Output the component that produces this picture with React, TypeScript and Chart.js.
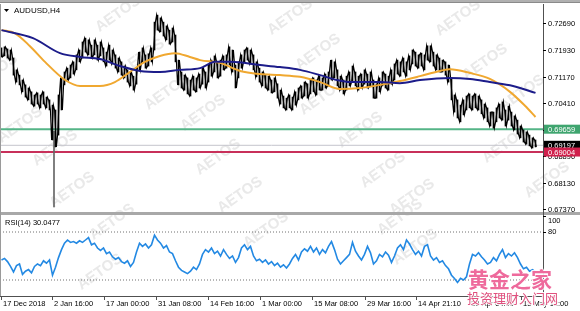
import React, { useEffect, useRef } from 'react';
import { Chart, registerables } from 'chart.js';

Chart.register(...registerables);

const symbolTitle = 'AUDUSD,H4';
const rsiTitle = 'RSI(14) 30.0477';

// H4 bars (one entry per plotted column), high / low
const highs = [
  0.7199, 0.7202, 0.7196, 0.7193, 0.7170, 0.7136, 0.7121, 0.7107, 0.7093, 0.7084,
  0.7073, 0.7064, 0.7070, 0.7064, 0.7073, 0.7058, 0.7050, 0.7035, 0.7021, 0.7064,
  0.7113, 0.7130, 0.7141, 0.7150, 0.7159, 0.7179, 0.7193, 0.7216, 0.7227, 0.7222,
  0.7207, 0.7222, 0.7207, 0.7216, 0.7199, 0.7187, 0.7207, 0.7193, 0.7179, 0.7170,
  0.7159, 0.7147, 0.7136, 0.7130, 0.7118, 0.7141, 0.7187, 0.7199, 0.7179, 0.7182,
  0.7199, 0.7273, 0.7293, 0.7285, 0.7273, 0.7262, 0.7250, 0.7256, 0.7236, 0.7164,
  0.7130, 0.7121, 0.7113, 0.7107, 0.7118, 0.7113, 0.7124, 0.7141, 0.7130, 0.7150,
  0.7164, 0.7176, 0.7159, 0.7164, 0.7176, 0.7179, 0.7202, 0.7193, 0.7150, 0.7159,
  0.7179, 0.7193, 0.7199, 0.7193, 0.7179, 0.7159, 0.7141, 0.7130, 0.7121, 0.7118,
  0.7107, 0.7113, 0.7096, 0.7078, 0.7061, 0.7055, 0.7064, 0.7058, 0.7073, 0.7084,
  0.7090, 0.7101, 0.7096, 0.7107, 0.7113, 0.7107, 0.7118, 0.7113, 0.7124, 0.7130,
  0.7164, 0.7159, 0.7136, 0.7118, 0.7107, 0.7118, 0.7130, 0.7147, 0.7130, 0.7118,
  0.7124, 0.7136, 0.7124, 0.7130, 0.7107, 0.7096, 0.7113, 0.7130, 0.7124, 0.7118,
  0.7136, 0.7153, 0.7164, 0.7159, 0.7170, 0.7159, 0.7176, 0.7193, 0.7187, 0.7179,
  0.7184, 0.7179, 0.7205, 0.7205, 0.7187, 0.7179, 0.7170, 0.7164, 0.7159, 0.7150,
  0.7113, 0.7064, 0.7050, 0.7035, 0.7050, 0.7061, 0.7067, 0.7061, 0.7067, 0.7061,
  0.7050, 0.7038, 0.7027, 0.7015, 0.7015, 0.7027, 0.7038, 0.7044, 0.7021, 0.7032,
  0.7015, 0.7004, 0.6992, 0.6975, 0.6964, 0.6958, 0.6949, 0.6941, 0.6935,
];
const lows = [
  0.7173, 0.7176, 0.7170, 0.7164, 0.7121, 0.7101, 0.7093, 0.7073, 0.7058, 0.7050,
  0.7038, 0.7032, 0.7038, 0.7027, 0.7038, 0.7027, 0.7021, 0.6935, 0.6915, 0.6949,
  0.7021, 0.7093, 0.7107, 0.7113, 0.7124, 0.7136, 0.7159, 0.7170, 0.7187, 0.7179,
  0.7170, 0.7179, 0.7164, 0.7176, 0.7159, 0.7147, 0.7164, 0.7153, 0.7141, 0.7130,
  0.7121, 0.7113, 0.7101, 0.7090, 0.7078, 0.7095, 0.7136, 0.7159, 0.7141, 0.7147,
  0.7159, 0.7193, 0.7250, 0.7245, 0.7233, 0.7222, 0.7210, 0.7216, 0.7159, 0.7093,
  0.7084, 0.7078, 0.7067, 0.7061, 0.7078, 0.7073, 0.7084, 0.7095, 0.7084, 0.7101,
  0.7118, 0.7130, 0.7113, 0.7118, 0.7136, 0.7141, 0.7150, 0.7130, 0.7084, 0.7113,
  0.7141, 0.7159, 0.7164, 0.7153, 0.7136, 0.7116, 0.7101, 0.7090, 0.7084, 0.7078,
  0.7070, 0.7073, 0.7055, 0.7038, 0.7027, 0.7021, 0.7027, 0.7021, 0.7035, 0.7050,
  0.7055, 0.7061, 0.7055, 0.7067, 0.7073, 0.7064, 0.7078, 0.7078, 0.7084, 0.7090,
  0.7107, 0.7113, 0.7090, 0.7078, 0.7067, 0.7078, 0.7090, 0.7101, 0.7090, 0.7078,
  0.7084, 0.7095, 0.7084, 0.7090, 0.7055, 0.7055, 0.7073, 0.7090, 0.7084, 0.7078,
  0.7095, 0.7107, 0.7124, 0.7118, 0.7130, 0.7118, 0.7136, 0.7153, 0.7147, 0.7141,
  0.7147, 0.7136, 0.7164, 0.7159, 0.7147, 0.7136, 0.7130, 0.7130, 0.7121, 0.7101,
  0.7050, 0.7015, 0.6998, 0.6987, 0.7007, 0.7021, 0.7027, 0.7021, 0.7027, 0.7021,
  0.7010, 0.6998, 0.6987, 0.6975, 0.6969, 0.6987, 0.6998, 0.6992, 0.6975, 0.6992,
  0.6975, 0.6964, 0.6952, 0.6941, 0.6929, 0.6923, 0.6918, 0.6912, 0.6915,
];

// the long lower shadow of early January
const spikeBar = [17.5];
const spikeHigh = [0.6960];
const spikeLow = [0.6743];

// moving averages (bar position, value)
const maFastIdx = [0, 4.5, 9.5, 14.5, 21.2, 26.2, 32.8, 37.8, 42.8, 47.8, 52.8, 57.8, 62.8, 66.2, 72.8, 79.5, 86.2, 92.8, 99.5, 106.2, 112.8, 119.5, 126.2, 132.8, 139.5, 146.2, 149.5, 156.2, 162.8, 169.5, 174.5, 178];
const maFastVal = [0.7250, 0.7241, 0.7204, 0.7159, 0.7107, 0.7090, 0.7090, 0.7101, 0.7130, 0.7159, 0.7176, 0.7184, 0.7173, 0.7164, 0.7156, 0.7133, 0.7124, 0.7121, 0.7116, 0.7101, 0.7081, 0.7084, 0.7093, 0.7104, 0.7118, 0.7133, 0.7138, 0.7127, 0.7110, 0.7073, 0.7033, 0.7001];
const maSlowIdx = [0, 10.5, 19.5, 26.2, 32.8, 39.5, 46.2, 52.8, 59.5, 66.2, 71.2, 76.2, 86.2, 92.8, 99.5, 106.2, 111.8, 116.2, 126.2, 132.8, 139.5, 149.5, 156.2, 162.8, 170.5, 178];
const maSlowVal = [0.7250, 0.7227, 0.7184, 0.7173, 0.7167, 0.7147, 0.7133, 0.7130, 0.7136, 0.7141, 0.7159, 0.7159, 0.7150, 0.7144, 0.7136, 0.7121, 0.7107, 0.7101, 0.7101, 0.7098, 0.7107, 0.7113, 0.7110, 0.7101, 0.7090, 0.7070];

const rsiValues = [
  45, 47, 43, 37, 30, 38, 40, 27, 31, 33,
  29, 37, 40, 38, 44, 41, 45, 26, 36, 48,
  58, 66, 70, 67, 68, 66, 69, 67, 70, 73,
  64, 66, 60, 57, 60, 53, 55, 49, 46, 48,
  43, 41, 44, 37, 42, 55, 66, 62, 65, 60,
  64, 76, 70, 66, 60, 63, 55, 53, 44, 36,
  32, 30, 28, 31, 36, 33, 40, 52, 58, 55,
  60, 53, 56, 50, 58, 52, 47, 50, 42, 48,
  60, 64, 58, 62, 50, 44, 46, 42, 45, 40,
  43, 38, 41, 36, 39, 35, 40, 47, 52, 45,
  55, 59, 56, 62, 55, 60, 52, 58, 54, 62,
  68, 58, 46, 40, 44, 48, 52, 67, 56, 50,
  45, 52, 62, 54, 40, 44, 52, 49, 55, 51,
  42, 50, 60, 64, 58, 70, 65, 58, 52, 56,
  50, 62, 64, 50, 45, 48, 42, 44, 38, 34,
  26, 22, 17, 22, 20, 24, 40, 52, 50, 54,
  49, 45, 40, 42, 48, 44, 52, 58, 48, 53,
  50, 54, 48, 40, 34, 36, 31, 33, 30.0477,
];

const priceTicks = [0.7269, 0.7193, 0.7117, 0.7041, 0.6965, 0.6889, 0.6813, 0.6737];
const greenLevel = 0.69659;
const bidLevel = 0.69197;
const redLevel = 0.69004;
const rsiLevels = [80, 20];
const rsiTicks = [100, 80];

const timeTickIdx = [-0.17, 16.83, 34.17, 51.5, 68.83, 86.17, 103.5, 121, 138.3, 155.7, 173];
const timeTickLabels = ['17 Dec 2018', '2 Jan 16:00', '17 Jan 00:00', '31 Jan 08:00', '14 Feb 16:00', '1 Mar 00:00', '15 Mar 08:00', '29 Mar 16:00', '14 Apr 21:10', '29 Apr 04:00', '13 May 12:00'];

const watermarkBig = '黄金之家';
const watermarkSmall = '投资理财入门网';
const brandMark = 'AETOS';
// decorative brand stamps (canvas pixel centres)
const brandSpots = [
  [118, 14], [142, 57], [167, 92], [290, 17], [318, 52], [322, 97], [458, 18], [485, 62], [522, 93],
  [20, 125], [55, 148], [72, 190], [203, 113], [218, 157], [240, 195], [360, 130], [383, 170], [412, 197],
  [505, 145], [547, 180], [-5, 72], [112, 222], [100, 272], [266, 230], [400, 217], [415, 247],
];

const AXIS_FONT = '7.5px "Liberation Sans", Arial, sans-serif';

const mt4Plugin = {
  id: 'mt4Frame',
  beforeDraw(chart: any) {
    const { ctx, width, height } = chart;
    ctx.save();
    ctx.fillStyle = '#ffffff';
    ctx.fillRect(0, 0, width, height);
    ctx.font = 'bold 15px "Liberation Sans", Arial, sans-serif';
    ctx.textAlign = 'center';
    ctx.textBaseline = 'middle';
    ctx.fillStyle = '#e9e9e9';
    brandSpots.forEach(([bx, by]) => {
      ctx.save();
      ctx.translate(bx, by);
      ctx.rotate(-0.62);
      ctx.fillText(brandMark, 0, 0);
      ctx.restore();
    });
    ctx.restore();
  },
  afterDraw(chart: any) {
    const { ctx, chartArea: ca, scales, width } = chart;
    const xs = scales.x, ys = scales.y, rs = scales.y2;
    ctx.save();
    // frame
    ctx.fillStyle = '#b0b0b0';
    ctx.fillRect(0, 0, width, 3);
    ctx.fillStyle = '#8a8a8a';
    ctx.fillRect(0, 2, width, 1);
    const sep = rs.getPixelForValue(100);
    ctx.fillStyle = '#a8a8a8';
    ctx.fillRect(0, sep - 4, width, 3);
    ctx.fillStyle = '#9a9a9a';
    ctx.fillRect(0, ca.top, 1, ca.bottom - ca.top);
    ctx.fillStyle = '#505050';
    ctx.fillRect(ca.right, ca.top, 1, ca.bottom - ca.top + 3);
    ctx.fillRect(0, ca.bottom, ca.right, 1);

    ctx.font = AXIS_FONT;
    ctx.textBaseline = 'middle';
    ctx.textAlign = 'left';
    // price axis
    ctx.fillStyle = '#000';
    priceTicks.forEach((v) => {
      const py = Math.round(ys.getPixelForValue(v));
      ctx.fillRect(ca.right, py, 3, 1);
      ctx.fillText(v.toFixed(5), ca.right + 5, py + 0.5);
    });
    const box = (v: number, bg: string) => {
      const py = ys.getPixelForValue(v);
      ctx.fillStyle = bg;
      ctx.fillRect(ca.right + 1, py - 4.5, width - ca.right, 9);
      ctx.fillStyle = '#fff';
      ctx.fillText(v.toFixed(5), ca.right + 5, py + 0.5);
    };
    box(greenLevel, '#3fa56f');
    box(bidLevel, '#000000');
    box(redLevel, '#d0204c');

    // RSI axis
    ctx.fillStyle = '#000';
    rsiTicks.forEach((v) => {
      const py = Math.max(rs.getPixelForValue(v), sep + 5);
      ctx.fillRect(ca.right, Math.round(rs.getPixelForValue(v)), 3, 1);
      ctx.fillText(String(v), ca.right + 5, py);
    });

    // time axis
    timeTickIdx.forEach((t, k) => {
      const px = Math.round(xs.getPixelForValue(t));
      ctx.fillStyle = '#505050';
      ctx.fillRect(Math.max(px, 0), ca.bottom, 1, 4);
      ctx.fillStyle = '#000';
      ctx.fillText(timeTickLabels[k], Math.max(px, 0) + 2, ca.bottom + 7.5);
    });

    // titles
    ctx.fillStyle = '#000';
    ctx.beginPath();
    ctx.moveTo(4, 9);
    ctx.lineTo(9, 9);
    ctx.lineTo(6.5, 12);
    ctx.closePath();
    ctx.fill();
    ctx.font = '8px "Liberation Sans", Arial, sans-serif';
    ctx.fillText(symbolTitle, 14, 11);
    ctx.font = AXIS_FONT;
    ctx.fillText(rsiTitle, 5, sep + 6.5);

    // site watermark
    ctx.font = 'bold 21px "Noto Sans CJK SC"';
    ctx.lineWidth = 2;
    ctx.strokeStyle = 'rgba(255,255,255,0.9)';
    ctx.strokeText(watermarkBig, 468, 279);
    ctx.fillStyle = '#ee6a9c';
    ctx.fillText(watermarkBig, 468, 279);
    ctx.font = '13px "Noto Sans CJK SC"';
    ctx.strokeText(watermarkSmall, 467, 298);
    ctx.fillStyle = '#e0507e';
    ctx.fillText(watermarkSmall, 467, 298);
    ctx.restore();
  },
};

export default function App() {
  const ref = useRef<HTMLCanvasElement>(null);
  useEffect(() => {
    const bars = highs.map((h, i) => ({ x: i, y: [lows[i], h] }));
    // price trace running through each bar's extremes
    const trace: { x: number; y: number }[] = [];
    highs.forEach((h, i) => {
      const first = i % 2 === 0 ? h : lows[i];
      const second = i % 2 === 0 ? lows[i] : h;
      trace.push({ x: i - 0.3, y: first }, { x: i + 0.3, y: second });
    });
    const spike = spikeBar.map((b, i) => ({ x: b, y: [spikeLow[i], spikeHigh[i]] }));
    const span = (v: number) => [{ x: -0.5, y: v }, { x: 180.5, y: v }];
    const chart = new Chart(ref.current as HTMLCanvasElement, {
      type: 'bar',
      data: {
        datasets: [
          { type: 'line', data: span(greenLevel), borderColor: '#55b487', borderWidth: 2, pointRadius: 0, yAxisID: 'y', order: 9 },
          { type: 'line', data: span(bidLevel), borderColor: '#c4c4cc', borderWidth: 1, pointRadius: 0, yAxisID: 'y', order: 9 },
          { type: 'line', data: span(redLevel), borderColor: '#c8305a', borderWidth: 2, pointRadius: 0, yAxisID: 'y', order: 9 },
          { type: 'bar', data: spike as any, backgroundColor: '#666666', barThickness: 1, grouped: false, yAxisID: 'y', order: 6 },
          { type: 'bar', data: bars as any, backgroundColor: '#000000', barThickness: 1, grouped: false, yAxisID: 'y', order: 5 },
          { type: 'line', data: trace, borderColor: '#000000', borderWidth: 1.1, pointRadius: 0, yAxisID: 'y', order: 5 },
          { type: 'line', data: maFastIdx.map((x, i) => ({ x, y: maFastVal[i] })), borderColor: '#f0a830', borderWidth: 2, pointRadius: 0, cubicInterpolationMode: 'monotone', yAxisID: 'y', order: 2 },
          { type: 'line', data: maSlowIdx.map((x, i) => ({ x, y: maSlowVal[i] })), borderColor: '#1c1c8a', borderWidth: 2, pointRadius: 0, cubicInterpolationMode: 'monotone', yAxisID: 'y', order: 1 },
          ...rsiLevels.map((lv) => ({ type: 'line', data: span(lv), borderColor: '#707070', borderWidth: 1, borderDash: [1, 2], pointRadius: 0, yAxisID: 'y2', order: 3 })),
          { type: 'line', data: rsiValues.map((v, i) => ({ x: i, y: v })), borderColor: '#2389e3', borderWidth: 1.6, pointRadius: 0, yAxisID: 'y2', order: 1 },
        ] as any,
      },
      options: {
        animation: false,
        responsive: false,
        devicePixelRatio: 1,
        events: [],
        layout: { padding: { left: 0, right: 37, top: 4, bottom: 15 } },
        plugins: { legend: { display: false }, tooltip: { enabled: false } },
        scales: {
          x: { type: 'linear', min: -0.5, max: 180.5, display: false, offset: false },
          y: { type: 'linear', min: 0.648753, max: 0.732492, display: false },
          y2: { type: 'linear', min: 0, max: 365, display: false },
        },
      } as any,
      plugins: [mt4Plugin],
    });
    return () => chart.destroy();
  }, []);
  return (
    <div style={{ position: 'absolute', left: 0, top: 0, width: 580, height: 311, background: '#fff' }}>
      <canvas ref={ref} width={580} height={311} style={{ display: 'block' }} />
    </div>
  );
}
